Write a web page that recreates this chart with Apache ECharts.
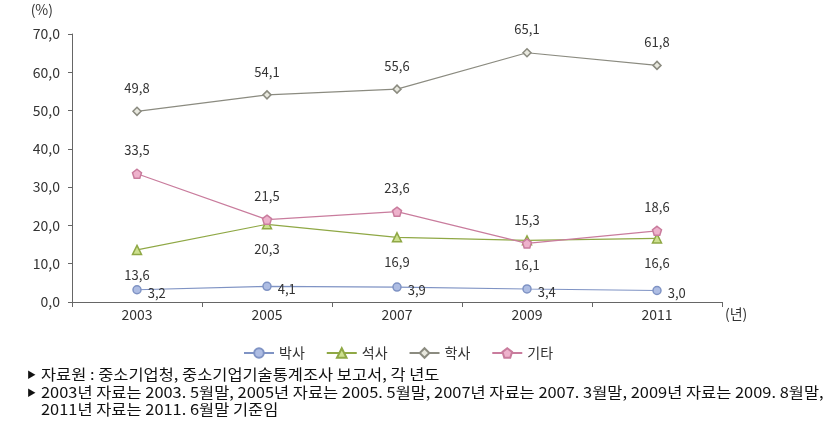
<!DOCTYPE html>
<html><head><meta charset="utf-8">
<script src="https://cdn.jsdelivr.net/npm/echarts@6/dist/echarts.min.js"></script>
<style>html,body{margin:0;padding:0;background:#fff}#c{width:838px;height:435px}</style>
</head><body><div id="c"></div>
<script>
const years = ['2003','2005','2007','2009','2011'];
const phd = [3.2, 4.1, 3.9, 3.4, 3.0];
const master = [13.6, 20.3, 16.9, 16.1, 16.6];
const bachelor = [49.8, 54.1, 55.6, 65.1, 61.8];
const other = [33.5, 21.5, 23.6, 15.3, 18.6];
const seriesNames = ['박사','석사','학사','기타'];
const yTicks = [0,10,20,30,40,50,60,70];
const notes = [
  '자료원 : 중소기업청, 중소기업기술통계조사 보고서, 각 년도',
  '2003년 자료는 2003. 5월말, 2005년 자료는 2005. 5월말, 2007년 자료는 2007. 3월말, 2009년 자료는 2009. 8월말,',
  '2011년 자료는 2011. 6월말 기준임'
];
const FONT = '"Noto Sans CJK KR", "Noto Sans", sans-serif';
const fmt = v => v.toFixed(1).replace('.', ',');
const PENTA = 'path://M0,-10 L9.51,-3.09 L5.88,8.09 L-5.88,8.09 L-9.51,-3.09 Z';
const chart = echarts.init(document.getElementById('c'), null, {renderer:'canvas'});
function mk(name, data, color, symbol, fill, label, size){
  return {
    name, type:'line', data, symbol, symbolSize: size || 8,
    lineStyle:{color, width:1.2},
    itemStyle:{color: fill, borderColor: color, borderWidth:1.5},
    label: Object.assign({show:true, color:'#333', fontSize:13, fontFamily:FONT,
      formatter: p => fmt(p.value)}, label),
    emphasis:{disabled:true}, animation:false
  };
}
const graphics = [];
const noteTops = [367, 385, 402];
notes.forEach((t,i)=>{
  if (i < 2) graphics.push({type:'text', left:27, top:noteTops[i]+3,
    style:{text:'▶', fontSize:9, fill:'#111', fontFamily:FONT}});
  graphics.push({type:'text', x:41, y:noteTops[i], scaleX:1.095,
    style:{text:t, fontSize:15, fill:'#111', fontFamily:FONT}});
});
chart.setOption({
  animation:false,
  textStyle:{fontFamily:FONT},
  grid:{left:72, right:116, top:34, bottom:133, containLabel:false},
  legend:{
    data: seriesNames, top:341, left:238, itemGap:21, itemWidth:30, itemHeight:12,
    textStyle:{fontSize:14, color:'#333', fontFamily:FONT}
  },
  xAxis:{
    type:'category', data: years, boundaryGap:true,
    name:'(년)', nameLocation:'end', nameGap:3,
    nameTextStyle:{fontSize:14, color:'#333', verticalAlign:'top', padding:[5,0,0,0]},
    axisLine:{lineStyle:{color:'#666', width:1}},
    axisTick:{show:true, length:5, lineStyle:{color:'#666'}},
    axisLabel:{fontSize:14, color:'#333', margin:6}
  },
  yAxis:{
    type:'value', min:0, max:70, interval:10,
    name:'(%)', nameLocation:'end', nameGap:17,
    nameTextStyle:{fontSize:14, color:'#333', align:'right', padding:[0,19,0,0]},
    axisLine:{show:true, lineStyle:{color:'#666', width:1}},
    axisTick:{show:true, length:4, lineStyle:{color:'#666'}},
    splitLine:{show:false},
    axisLabel:{fontSize:14, color:'#333', margin:12, formatter: v => yTicks.includes(v) ? fmt(v) : ''}
  },
  series:[
    mk(seriesNames[0], phd, '#7f93c4', 'circle', '#aebde3', {position:'right', distance:6, offset:[0,3]}),
    mk(seriesNames[1], master, '#8fa845', 'triangle', '#cde08f', {position:'bottom', distance:13}, 9),
    mk(seriesNames[2], bachelor, '#8b8b80', 'diamond', '#e8e8de', {position:'top', distance:12}),
    mk(seriesNames[3], other, '#c97c9d', PENTA, '#eeb2cc', {position:'top', distance:12}, 9)
  ],
  graphic: graphics
});
</script></body></html>
